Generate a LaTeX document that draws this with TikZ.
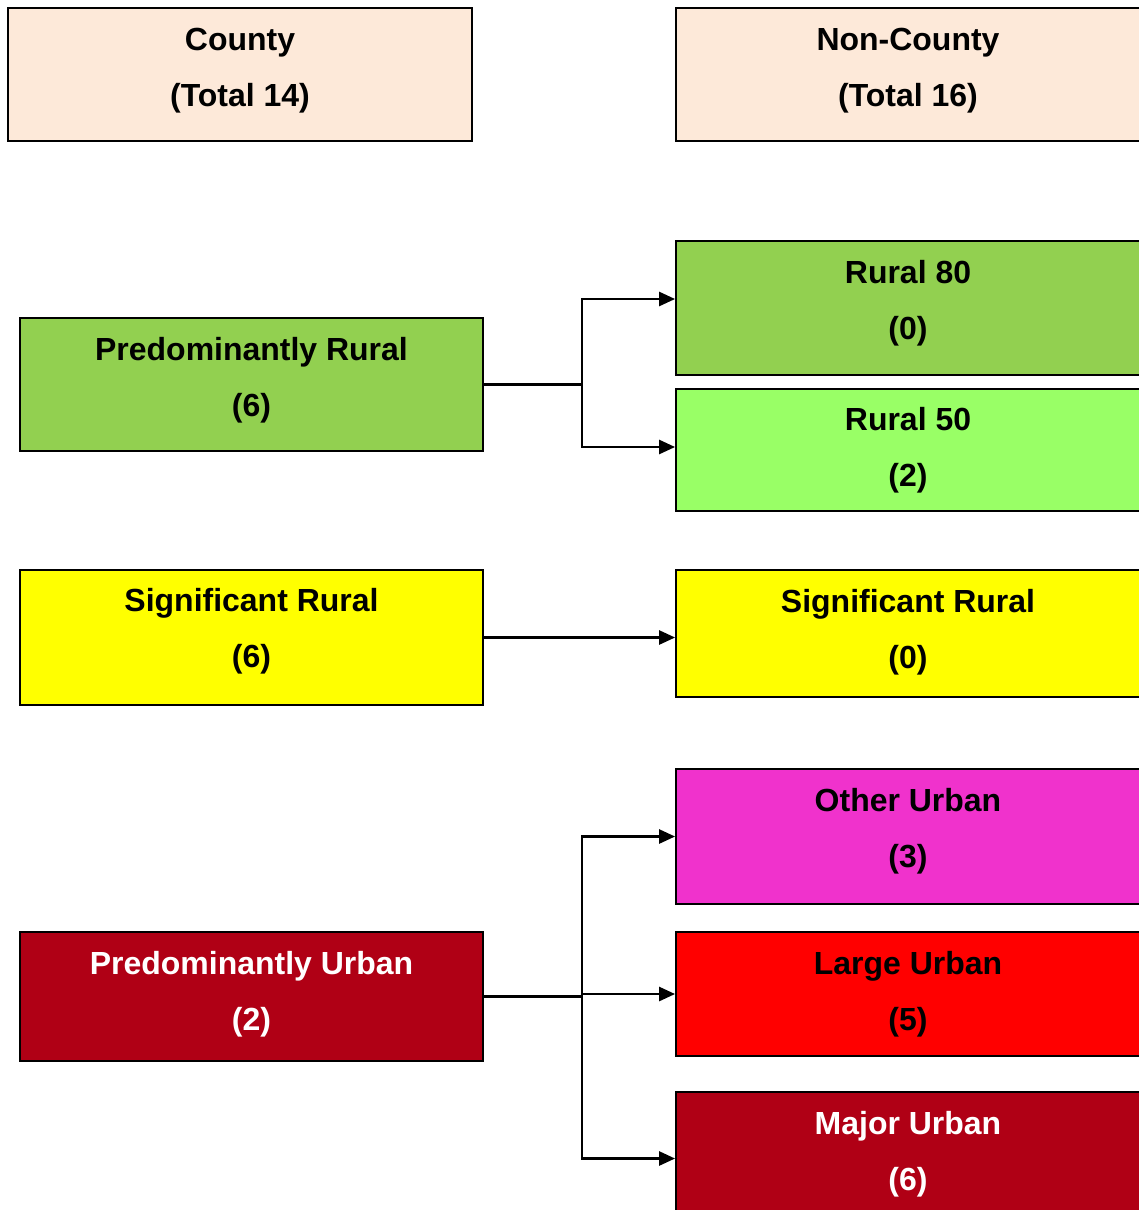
\documentclass[tikz,border=0pt]{standalone}
\usepackage{fontspec}
\setmainfont{Liberation Sans}
\usetikzlibrary{arrows.meta}

\definecolor{peach}{RGB}{253,233,217}
\definecolor{ruralgreen}{RGB}{146,208,80}
\definecolor{lightgreen}{RGB}{153,255,102}
\definecolor{sigyellow}{RGB}{255,255,0}
\definecolor{urbanpink}{RGB}{240,50,204}
\definecolor{urbanred}{RGB}{255,0,0}
\definecolor{darkred}{RGB}{176,0,21}

\begin{document}
\begin{tikzpicture}[
  x=0.02cm, y=-0.02cm,
  font=\fontsize{18.2}{32}\selectfont\bfseries,
  box/.style={draw, line width=1.1pt, minimum width=9.28cm,
              align=center, inner sep=0pt},
  lift/.style={execute at end node={\rule[-\dimexpr 3.8pt+#1\relax]{0pt}{0pt}}},
  link/.style={line width=1.5pt},
  arr/.style={-{Triangle[length=0.32cm,width=0.28cm]}, line width=1.5pt},
]
\useasboundingbox (0,0) rectangle (1139,1210);
\clip (0,0) rectangle (1139,1210);

% ---- Headings ----
\node[box, fill=peach, lift=0.16cm, minimum height=2.66cm] (county)    at (240,74.5) {County\\(Total 14)};
\node[box, fill=peach, lift=0.16cm, minimum height=2.66cm] (noncounty) at (908,74.5) {Non-County\\(Total 16)};

% ---- County column ----
\node[box, fill=ruralgreen, lift=0.16cm, minimum height=2.66cm] (predrural) at (251.5,384.5) {Predominantly Rural\\(6)};
\node[box, fill=sigyellow, lift=0.24cm, minimum height=2.7cm]   (sigleft)   at (251.5,637.5) {Significant Rural\\(6)};
\node[box, fill=darkred, text=white, lift=0.08cm, minimum height=2.58cm] (predurban) at (251.5,996.5) {Predominantly Urban\\(2)};

% ---- Non-County column ----
\node[box, fill=ruralgreen, lift=0.2cm, minimum height=2.68cm] (rural80)  at (908,308)    {Rural 80\\(0)};
\node[box, fill=lightgreen, minimum height=2.44cm]             (rural50)  at (908,450)    {Rural 50\\(2)};
\node[box, fill=sigyellow, lift=0.04cm, minimum height=2.54cm] (sigright) at (908,633.5)  {Significant Rural\\(0)};
\node[box, fill=urbanpink, lift=0.2cm, minimum height=2.7cm]   (other)    at (908,836.5)  {Other Urban\\(3)};
\node[box, fill=urbanred, minimum height=2.48cm]               (large)    at (908,994)    {Large Urban\\(5)};
\node[box, fill=darkred, text=white, lift=0.16cm, minimum height=2.66cm] (major) at (908,1158.5) {Major Urban\\(6)};

% ---- Rural split ----
\coordinate (jrural) at (582,384.5);
\draw[link] (predrural.east) -- (jrural);
\draw[arr] (jrural) |- ([yshift=0.18cm]rural80.west);
\draw[arr] (jrural) |- ([yshift=0.06cm]rural50.west);

% ---- Significant rural ----
\draw[arr] (sigleft.east) -- (sigleft.east -| sigright.west);

% ---- Urban split ----
\coordinate (jurban) at (582,996.5);
\draw[link] (predurban.east) -- (jurban);
\foreach \t in {other, large, major}
  \draw[arr] (jurban) |- (\t.west);
\end{tikzpicture}
\end{document}
